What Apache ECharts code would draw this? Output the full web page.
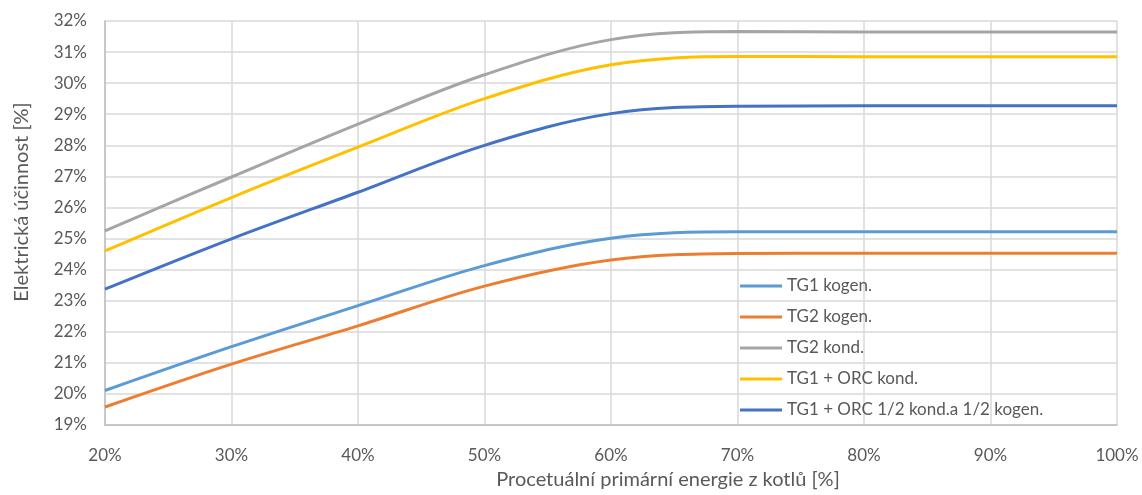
<!DOCTYPE html>
<html>
<head>
<meta charset="utf-8">
<script src="https://cdn.jsdelivr.net/npm/echarts@6/dist/echarts.min.js"></script>
<style>
  html, body { margin: 0; padding: 0; background: #fff; }
  #chart { width: 1142px; height: 495px; }
</style>
</head>
<body>
<div id="chart"></div>
<script>
// Share of primary energy from the boilers [%]
const podilKotlu = [20, 30, 40, 50, 60, 70, 80, 90, 100];

// Electrical efficiency [%] per operating mode
const tg1Kogen = [20.11, 21.52, 22.84, 24.13, 25.01, 25.22, 25.22, 25.22, 25.22];
const tg2Kogen = [19.58, 20.96, 22.19, 23.47, 24.31, 24.52, 24.53, 24.53, 24.53];
const tg2Kond = [25.25, 26.98, 28.68, 30.27, 31.40, 31.66, 31.65, 31.65, 31.65];
const tg1OrcKond = [24.60, 26.32, 27.94, 29.50, 30.59, 30.86, 30.85, 30.85, 30.85];
const tg1OrcPul = [23.37, 24.99, 26.49, 28.00, 29.02, 29.26, 29.27, 29.27, 29.27];

const nazvyRad = [
  'TG1 kogen.',
  'TG2 kogen.',
  'TG2 kond.',
  'TG1 + ORC kond.',
  'TG1 + ORC 1/2 kond.a 1/2 kogen.'
];
const hodnotyRad = [tg1Kogen, tg2Kogen, tg2Kond, tg1OrcKond, tg1OrcPul];
const barvyRad = ['#5B9BD5', '#ED7D31', '#A5A5A5', '#FFC000', '#4472C4'];

const FONT = 'Lato, "Open Sans", sans-serif';
const TEXT = '#595959';
const GRID = '#D9D9D9';

const chart = echarts.init(document.getElementById('chart'), null, { renderer: 'canvas' });

const series = nazvyRad.map((nazev, i) => ({
  name: nazev,
  type: 'line',
  data: podilKotlu.map((x, j) => [x, hodnotyRad[i][j]]),
  smooth: 0.35,
  showSymbol: false,
  symbol: 'none',
  lineStyle: { color: barvyRad[i], width: 3 },
  itemStyle: { color: barvyRad[i] },
  z: 3 + (nazvyRad.length - i)
}));

chart.setOption({
  animation: false,
  backgroundColor: '#ffffff',
  textStyle: { fontFamily: FONT },
  grid: { left: 105, right: 25, top: 21, bottom: 68, containLabel: false },
  xAxis: {
    type: 'value',
    min: 20,
    max: 100,
    interval: 10,
    name: 'Procetuální primární energie z kotlů [%]',
    nameLocation: 'middle',
    nameGap: 45,
    nameTextStyle: { color: TEXT, fontSize: 20, fontFamily: FONT, padding: [0, 0, 0, 114] },
    axisLine: { show: true, lineStyle: { color: '#BFBFBF', width: 1.5 } },
    axisTick: { show: false },
    axisLabel: { color: TEXT, fontSize: 17, fontFamily: FONT, margin: 22, formatter: '{value}%' },
    splitLine: { show: true, lineStyle: { color: GRID, width: 1.5 } }
  },
  yAxis: {
    type: 'value',
    min: 19,
    max: 32,
    interval: 1,
    name: 'Elektrická účinnost [%]',
    nameLocation: 'middle',
    nameRotate: 90,
    nameGap: 73,
    nameTextStyle: { color: TEXT, fontSize: 20, fontFamily: FONT, padding: [0, 0, 0, 42] },
    axisLine: { show: true, lineStyle: { color: '#BFBFBF', width: 1.5 } },
    axisTick: { show: false },
    axisLabel: { color: TEXT, fontSize: 17, fontFamily: FONT, margin: 18, formatter: '{value}%' },
    splitLine: { show: true, lineStyle: { color: GRID, width: 1.5 } }
  },
  legend: {
    orient: 'vertical',
    left: 735,
    top: 271,
    icon: 'rect',
    itemWidth: 42,
    itemHeight: 3,
    itemGap: 11,
    data: nazvyRad,
    textStyle: { color: TEXT, fontSize: 17, fontFamily: FONT, lineHeight: 20 }
  },
  series: series
});
</script>
</body>
</html>
